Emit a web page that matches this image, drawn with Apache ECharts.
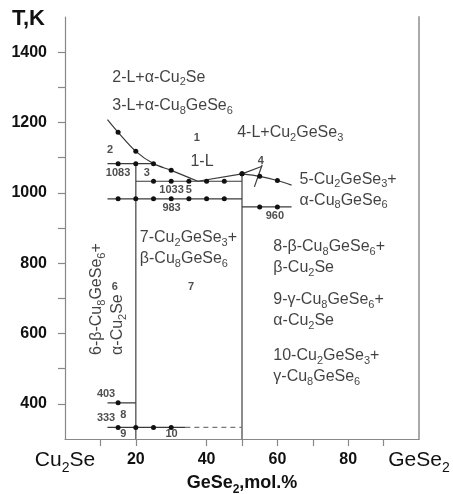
<!DOCTYPE html>
<html><head><meta charset="utf-8">
<script src="https://cdn.jsdelivr.net/npm/echarts@6/dist/echarts.min.js"></script>
<style>html,body{margin:0;padding:0;background:#fff}#c{width:453px;height:494px}</style>
</head><body><div id="c"></div>
<script>
// Cu2Se–GeSe2 phase diagram: temperature (K) against GeSe2 content (mol.%)

// Axis ticks and labels ("_n" marks a subscript digit)
const xLabelValues = [0, 20, 40, 60, 80, 100];
const xLabelTexts = ['Cu_2Se', '20', '40', '60', '80', 'GeSe_2'];
const xTickValues = [10, 20, 40, 50, 60, 70, 80, 90];
const yLabelValues = [400, 600, 800, 1000, 1200, 1400];
const yTickValues = [400, 500, 600, 700, 800, 900, 1000, 1100, 1200, 1300, 1400];

// Liquidus branches: [mol.% GeSe2, T in K, 1 = measured point]
const liquidusCu2Se = [[12, 1208, 0], [15, 1172, 1], [20, 1118, 1], [25, 1083, 1], [30, 1064, 1], [37.5, 1033, 0]];
const liquidusMid = [[37.5, 1033, 0], [50, 1054, 1]];
const liquidusGeSe2 = [[50, 1054, 1], [55, 1047, 1], [60, 1035, 1], [64, 1022, 0]];
// Boundaries of field 4
const field4Upper = [[50, 1054], [55.5, 1075]];
const field4Cross = [[53.5, 1017], [55.7, 1080]];

// Invariant horizontals
const isoT = [1083, 1033, 983, 960, 403, 333];
const isoFrom = [12, 20, 12, 50, 12, 12];
const isoTo = [25, 50, 50, 64, 20, 34];
const isoPoints = [[15, 20], [25, 30, 35, 40, 45], [15, 20, 25, 30, 35, 40, 45], [55, 60], [15], [15, 20, 25, 30]];
const isoLabelX = [15, 30.1, 30.1, 59.3, 11.6, 11.6];
const isoLabelSide = ['bottom', 'bottom', 'bottom', 'bottom', 'top', 'top'];
// Dashed continuation of the 333 K line
const iso333Dashed = [[34, 333], [50, 333]];

// Compounds Cu8GeSe6 (20 mol.%) and Cu2GeSe3 (50 mol.%)
const compoundX = [20, 50];
const compoundTop = [1083, 1054];
const axisMinT = 300;

// Field numbers
const fieldNo = ['1', '2', '3', '4', '5', '6', '7', '8', '9', '10'];
const fieldNoX = [37.2, 12.7, 23.1, 55.3, 35, 14.1, 35.6, 16.5, 16.5, 30.1];
const fieldNoT = [1156, 1122, 1056, 1090, 1008, 733, 733, 368, 314, 314];

// Field descriptions
const fieldText = ['2-L+α-Cu_2Se', '3-L+α-Cu_8GeSe_6', '1-L', '4-L+Cu_2GeSe_3',
  '5-Cu_2GeSe_3+\nα-Cu_8GeSe_6', '7-Cu_2GeSe_3+\nβ-Cu_8GeSe_6', '8-β-Cu_8GeSe_6+\nβ-Cu_2Se',
  '9-γ-Cu_8GeSe_6+\nα-Cu_2Se', '10-Cu_2GeSe_3+\nγ-Cu_8GeSe_6'];
const fieldTextX = [13.2, 13.2, 35.3, 48.5, 66.1, 21, 58.7, 58.7, 58.7];
const fieldTextT = [1329, 1248, 1088, 1170, 1009, 842, 817, 666, 506];
// Field 6 description, written upward
const field6Text = '6-β-Cu_8GeSe_6+\nα-Cu_2Se';
const field6X = 12;
const field6T = 539;

const FONT = '"Liberation Sans", Arial, Helvetica, sans-serif';
const INK = '#111';
const LINE = '#3a3a3a';

// Turn "Cu_2Se" into rich-text tokens with subscripts
function chem(text, main, sub) {
  return text.split('\n').map(line =>
    line.split(/_(\d)/).map((part, i) =>
      part === '' ? '' : '{' + (i % 2 ? sub : main) + '|' + part + '}').join('')
  ).join('\n');
}

const rich = {
  p: { fontFamily: FONT, fontSize: 16, lineHeight: 21, color: INK },
  ps: { fontFamily: FONT, fontSize: 11, lineHeight: 8, padding: [10, 0, 0, 0], verticalAlign: 'top', color: INK },
  big: { fontFamily: FONT, fontSize: 21, lineHeight: 20, color: INK },
  bigs: { fontFamily: FONT, fontSize: 14, lineHeight: 8, padding: [11, 0, 0, 0], verticalAlign: 'top', color: INK },
  num: { fontFamily: FONT, fontSize: 16, fontWeight: 'bold', lineHeight: 20, color: INK },
  nm: { fontFamily: FONT, fontSize: 18, fontWeight: 'bold', lineHeight: 20, color: INK },
  nms: { fontFamily: FONT, fontSize: 12, fontWeight: 'bold', lineHeight: 8, padding: [11, 0, 0, 0], verticalAlign: 'top', color: INK }
};

function pts(arr) {
  return arr.map(p => ({ value: [p[0], p[1]], symbol: p[2] ? 'circle' : 'none' }));
}

const series = [];

// Compound verticals
compoundX.forEach((x, i) => {
  series.push({
    type: 'line', data: [[x, axisMinT], [x, compoundTop[i]]], symbol: 'none', z: 1,
    lineStyle: { color: '#666', width: 1.5 }
  });
});

// Liquidus
[[liquidusCu2Se, 0.35], [liquidusMid, 0], [liquidusGeSe2, 0.3]].forEach(([arr, sm]) => {
  series.push({
    type: 'line', data: pts(arr), smooth: sm, symbolSize: 5, z: 3,
    itemStyle: { color: INK }, lineStyle: { color: LINE, width: 1.2 }
  });
});
[field4Upper, field4Cross].forEach(arr => {
  series.push({ type: 'line', data: arr, symbol: 'none', z: 3, lineStyle: { color: LINE, width: 1.2 } });
});

// Isotherms with measured points
isoT.forEach((T, i) => {
  const arr = [[isoFrom[i], T, 0]].concat(isoPoints[i].map(x => [x, T, 1]), [[isoTo[i], T, 0]]);
  series.push({
    type: 'line', data: pts(arr), symbolSize: 5, z: 3,
    itemStyle: { color: INK }, lineStyle: { color: LINE, width: 1.2 }
  });
});
series.push({
  type: 'line', data: iso333Dashed, symbol: 'none', z: 2,
  lineStyle: { color: '#777', width: 1.2, type: [5, 4] }
});

// Isotherm temperature labels
series.push({
  type: 'scatter', symbolSize: 1, itemStyle: { color: 'rgba(0,0,0,0)' }, z: 5,
  data: isoT.map((T, i) => ({
    value: [isoLabelX[i], T], name: String(T),
    label: { position: isoLabelSide[i], distance: 3 }
  })),
  label: { show: true, formatter: '{b}', fontFamily: FONT, fontSize: 11, fontWeight: 'bold', color: '#222' }
});

// Field numbers
series.push({
  type: 'scatter', symbolSize: 1, itemStyle: { color: 'rgba(0,0,0,0)' }, z: 5,
  data: fieldNo.map((t, i) => ({ value: [fieldNoX[i], fieldNoT[i]], name: t })),
  label: { show: true, position: 'inside', formatter: '{b}', fontFamily: FONT, fontSize: 11, fontWeight: 'bold', color: '#222' }
});

// Field descriptions
series.push({
  type: 'scatter', symbolSize: 1, itemStyle: { color: 'rgba(0,0,0,0)' }, z: 5,
  data: fieldText.map((t, i) => ({ value: [fieldTextX[i], fieldTextT[i]], name: t })),
  label: { show: true, position: 'right', distance: 0, formatter: p => chem(p.name, 'p', 'ps'), rich: rich }
});
series.push({
  type: 'scatter', symbolSize: 1, itemStyle: { color: 'rgba(0,0,0,0)' }, z: 5,
  data: [{ value: [field6X, field6T], name: field6Text }],
  label: {
    show: true, position: 'inside', rotate: 90, align: 'left', verticalAlign: 'middle',
    formatter: p => chem(p.name, 'p', 'ps'), rich: rich
  }
});

const chart = echarts.init(document.getElementById('c'), null, { renderer: 'canvas' });
chart.setOption({
  animation: false,
  backgroundColor: '#fff',
  grid: { left: 65, right: 34, top: 17, bottom: 55, outerBoundsMode: 'none' },
  graphic: [{
    type: 'text', left: 12, top: 8,
    style: { text: 'T,K', font: 'bold 22px ' + FONT, fill: INK }
  }],
  xAxis: {
    type: 'value', min: 0, max: 100, interval: 10,
    name: chem('GeSe_2,mol.%', 'nm', 'nms'), nameLocation: 'middle', nameGap: 34,
    nameMoveOverlap: false,
    nameTextStyle: { rich: rich, verticalAlign: 'top' },
    axisLine: { show: true, onZero: false, lineStyle: { color: '#888', width: 1.2 } },
    axisTick: { show: true, length: 7, customValues: xTickValues, lineStyle: { color: '#888', width: 1.2 } },
    axisLabel: {
      margin: 11, customValues: xLabelValues,
      formatter: v => {
        const t = xLabelTexts[xLabelValues.indexOf(v)];
        return /[A-Za-z]/.test(t) ? chem(t, 'big', 'bigs') : '{num|' + t + '}';
      },
      rich: rich
    },
    splitLine: { show: false }
  },
  yAxis: [{
    type: 'value', min: 300, max: 1500, interval: 100,
    axisLine: { show: true, lineStyle: { color: '#888', width: 1.2 } },
    axisTick: { show: true, length: 7, customValues: yTickValues, lineStyle: { color: '#888', width: 1.2 } },
    axisLabel: {
      customValues: yLabelValues, margin: 18, formatter: v => String(v),
      fontFamily: FONT, fontSize: 16, fontWeight: 'bold', color: INK
    },
    splitLine: { show: false }
  }, {
    type: 'value', min: 300, max: 1500, position: 'right',
    axisLine: { show: true, lineStyle: { color: '#aaa', width: 2 } },
    axisTick: { show: false }, axisLabel: { show: false }, splitLine: { show: false }
  }],
  series: series
});
</script>
</body></html>
